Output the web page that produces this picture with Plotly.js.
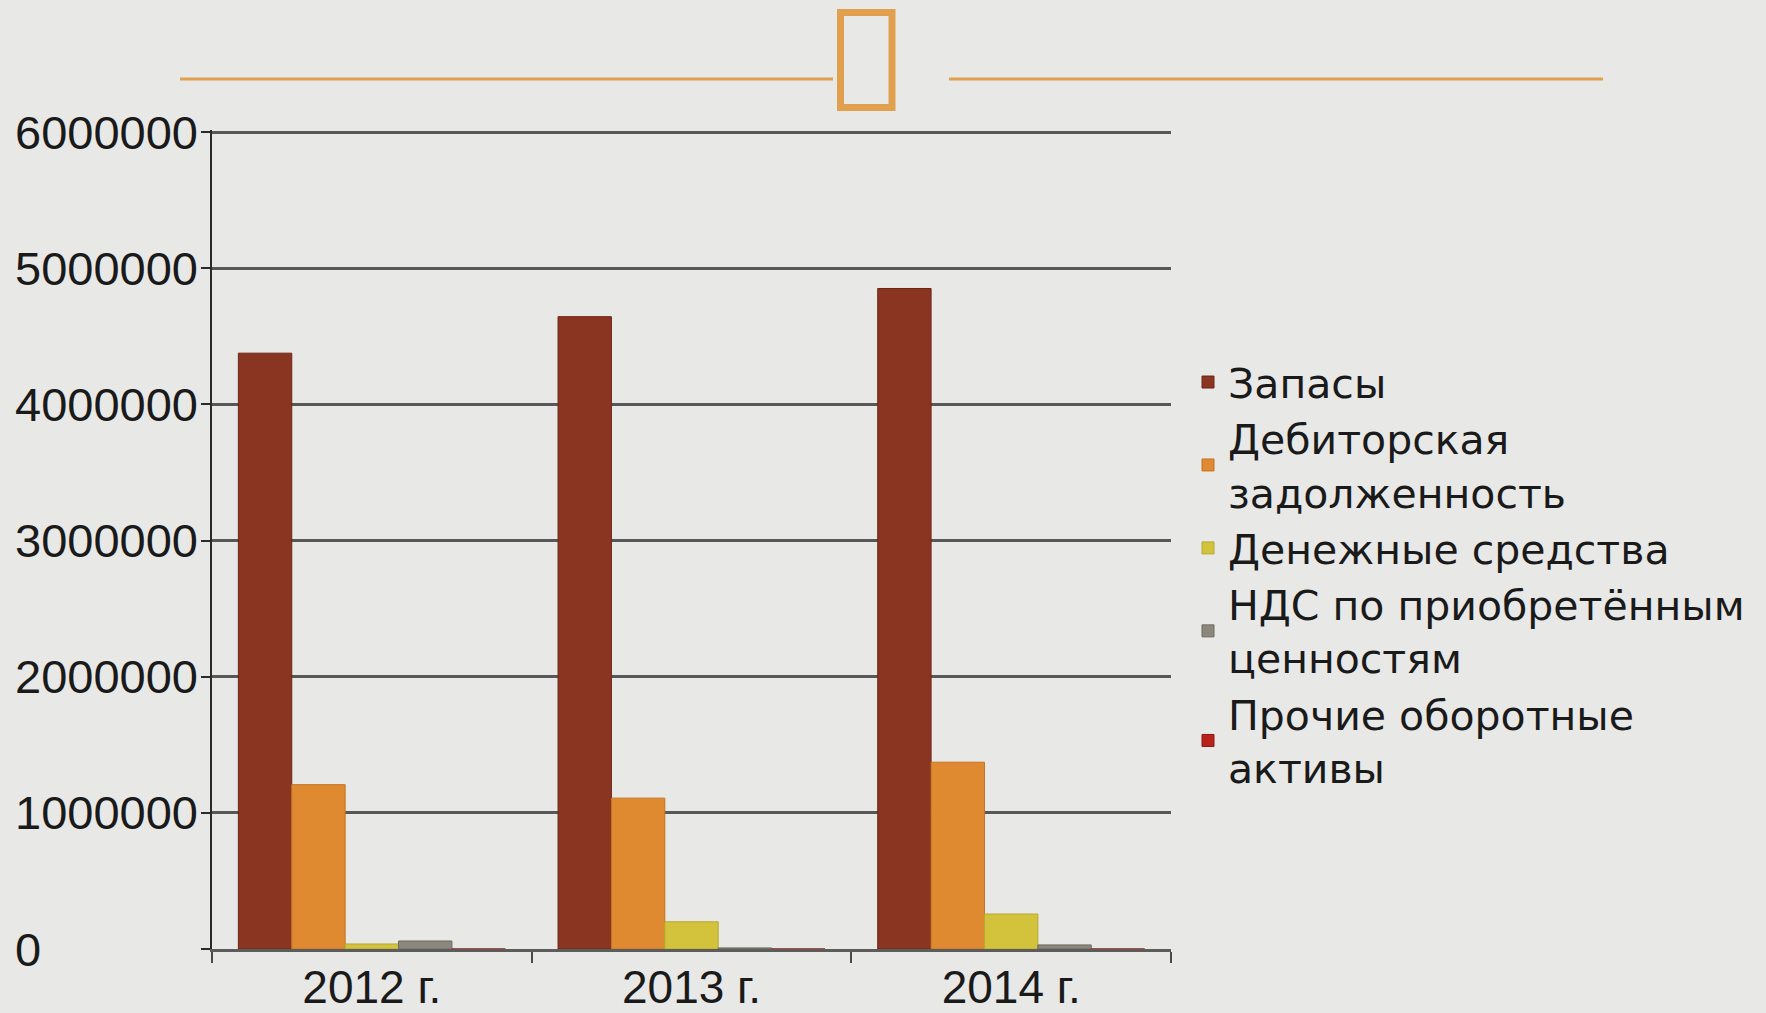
<!DOCTYPE html>
<html>
<head>
<meta charset="utf-8">
<script src="https://cdn.plot.ly/plotly-3.0.1.min.js"></script>
<style>
html,body{margin:0;padding:0;background:#e8e8e7;}
#chart{width:1766px;height:1013px;}
</style>
</head>
<body>
<div id="chart"></div>
<script>
// ---- data ----
const categories = ['2012 г.', '2013 г.', '2014 г.'];
const seriesNames = ['Запасы', 'Дебиторская<br>задолженность', 'Денежные средства', 'НДС по приобретённым<br>ценностям', 'Прочие оборотные<br>активы'];
const zapasy = [4376000, 4644000, 4851000];
const debitorka = [1207000, 1108000, 1372000];
const dengi = [37000, 200000, 257000];
const nds = [59000, 8000, 30000];
const prochie = [0, 0, 0];
const yTickVals = [0, 1000000, 2000000, 3000000, 4000000, 5000000, 6000000];
const yTickText = ['0', '1000000', '2000000', '3000000', '4000000', '5000000', '6000000'];

const seriesValues = [zapasy, debitorka, dengi, nds, prochie];
const colors = ['#8a3522', '#df8a30', '#d3c33c', '#8c877d', '#b8231c'];
const lineColors = ['#6e2616', '#c47422', '#b8a830', '#6f6a60', '#8f1812'];

const FONT = 'Liberation Sans, Arial, sans-serif';
const LEGEND_FONT = 'DejaVu Sans, Liberation Sans, sans-serif';

const traces = seriesValues.map((vals, i) => ({
  type: 'bar',
  name: seriesNames[i],
  x: categories,
  y: vals,
  marker: {color: colors[i], line: {color: lineColors[i], width: 1}},
  hoverinfo: 'x+y+name'
}));

const L = 212, R = 1171, T = 130, B = 949.5;
const W = 1766, H = 1013;
const px = v => (v - L) / (R - L);
const py = v => (B - v) / (B - T);

const annotations = yTickVals.map((v, i) => ({
  xref: 'paper', yref: 'y',
  x: px(13), y: v,
  xanchor: 'left', yanchor: 'middle',
  text: yTickText[i],
  showarrow: false,
  font: {family: FONT, size: 47, color: '#1a1a1a'}
}));

const deco = '#e0a04e';
const shapes = [
  {type: 'line', xref: 'paper', yref: 'paper', x0: px(180), x1: px(833), y0: py(79), y1: py(79), line: {color: deco, width: 3}},
  {type: 'line', xref: 'paper', yref: 'paper', x0: px(949), x1: px(1603), y0: py(79), y1: py(79), line: {color: deco, width: 3}},
  {type: 'rect', xref: 'paper', yref: 'paper', x0: px(840.5), x1: px(892), y0: py(12.5), y1: py(107.5), line: {color: deco, width: 7}, fillcolor: 'rgba(0,0,0,0)'}
];

const layout = {
  width: W, height: H,
  paper_bgcolor: '#e8e8e7',
  plot_bgcolor: 'rgba(0,0,0,0)',
  margin: {l: L, r: W - R, t: T, b: H - B, pad: 0},
  barmode: 'group',
  bargap: 0.165,
  bargroupgap: 0,
  font: {family: FONT, size: 46, color: '#1a1a1a'},
  showlegend: true,
  legend: {
    x: px(1188), y: py(349), xanchor: 'left', yanchor: 'top',
    bgcolor: 'rgba(0,0,0,0)',
    font: {family: LEGEND_FONT, size: 41, color: '#1a1a1a'},
    valign: 'middle',
    itemwidth: 30,
    tracegroupgap: 0,
    traceorder: 'normal'
  },
  xaxis: {
    type: 'category',
    showgrid: false,
    showline: true, linecolor: '#5c5c5c', linewidth: 3,
    ticks: 'outside', tickson: 'boundaries', ticklen: 11, tickwidth: 2, tickcolor: '#4a4a4a',
    ticklabelstandoff: -4,
    tickfont: {family: FONT, size: 46, color: '#1a1a1a'},
    zeroline: false,
    fixedrange: true
  },
  yaxis: {
    range: [0, 6015000],
    tickvals: yTickVals,
    showticklabels: false,
    showgrid: true, gridcolor: '#575757', gridwidth: 3,
    showline: true, linecolor: '#2a2a2a', linewidth: 2,
    ticks: 'outside', ticklen: 9, tickwidth: 2, tickcolor: '#2a2a2a',
    zeroline: false,
    fixedrange: true
  },
  annotations: annotations,
  shapes: shapes
};

Plotly.newPlot('chart', traces, layout, {displayModeBar: false, staticPlot: true});
</script>
</body>
</html>
